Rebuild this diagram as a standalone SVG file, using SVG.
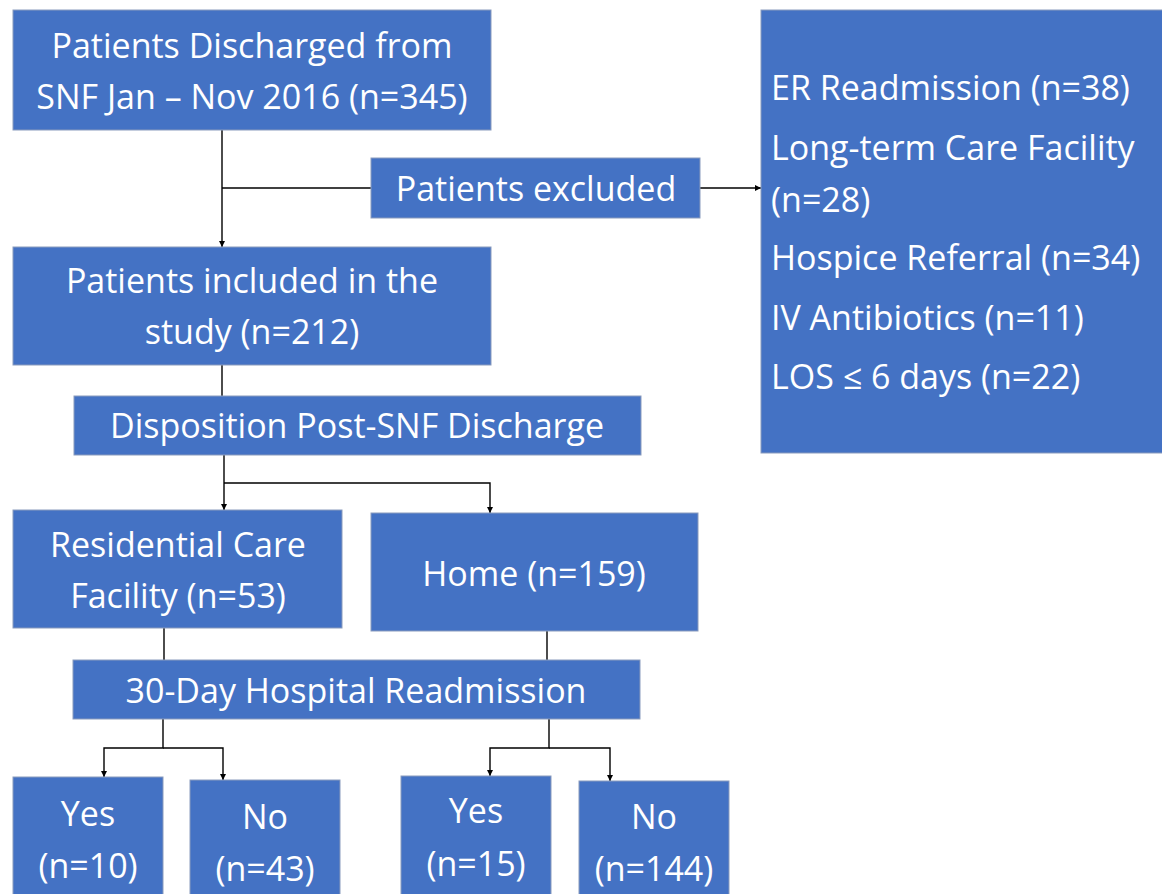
<svg xmlns="http://www.w3.org/2000/svg" width="1162" height="894" viewBox="0 0 1162 894">
<defs>
<style>
.box{fill:#4472C4;stroke:#8a9bbd;stroke-width:1}
.t{font-family:"Open Sans","Liberation Sans",sans-serif;font-size:34px;fill:#ffffff;text-anchor:middle}
.l{font-family:"Open Sans","Liberation Sans",sans-serif;font-size:34px;fill:#ffffff;text-anchor:start}
.c{fill:none;stroke:#000000;stroke-width:1.4}
</style>
<marker id="ah" viewBox="0 0 10 10" refX="10" refY="5" markerWidth="6" markerHeight="6" markerUnits="userSpaceOnUse" orient="auto">
<path d="M0,0 L10,5 L0,10 z" fill="#000000"/>
</marker>
</defs>
<rect width="1162" height="894" fill="#ffffff"/>
<g id="connectors">
<path class="c" d="M222,130 V247" marker-end="url(#ah)"/>
<path class="c" d="M222,188 H371"/>
<path class="c" d="M700,188 H761" marker-end="url(#ah)"/>
<path class="c" d="M222,365 V396"/>
<path class="c" d="M224,455 V510" marker-end="url(#ah)"/>
<path class="c" d="M224,483 H490 V513" marker-end="url(#ah)"/>
<path class="c" d="M164,628 V660"/>
<path class="c" d="M547,631 V660"/>
<path class="c" d="M163,719 V748 H104 V777" marker-end="url(#ah)"/>
<path class="c" d="M163,748 H223 V780" marker-end="url(#ah)"/>
<path class="c" d="M549,719 V748 H490 V776" marker-end="url(#ah)"/>
<path class="c" d="M549,748 H610 V781" marker-end="url(#ah)"/>
</g>
<g id="discharged">
<rect class="box" x="13" y="10" width="478" height="120"/>
<text class="t" x="252" y="58">Patients Discharged from</text>
<text class="t" x="252" y="109">SNF Jan – Nov 2016 (n=345)</text>
</g>
<g id="excluded">
<rect class="box" x="371" y="158" width="329" height="60"/>
<text class="t" x="536" y="201">Patients excluded</text>
</g>
<g id="reasons">
<rect class="box" x="761" y="10" width="402" height="443"/>
<text class="l" x="771" y="100">ER Readmission (n=38)</text>
<text class="l" x="771" y="160">Long-term Care Facility</text>
<text class="l" x="771" y="212">(n=28)</text>
<text class="l" x="771" y="270">Hospice Referral (n=34)</text>
<text class="l" x="771" y="330">IV Antibiotics (n=11)</text>
<text class="l" x="771" y="389">LOS ≤ 6 days (n=22)</text>
</g>
<g id="included">
<rect class="box" x="13" y="247" width="478" height="118"/>
<text class="t" x="252" y="293">Patients included in the</text>
<text class="t" x="252" y="344">study (n=212)</text>
</g>
<g id="disposition">
<rect class="box" x="74" y="396" width="567" height="59"/>
<text class="t" x="357" y="438">Disposition Post-SNF Discharge</text>
</g>
<g id="residential">
<rect class="box" x="13" y="510" width="329" height="118"/>
<text class="t" x="178" y="557">Residential Care</text>
<text class="t" x="178" y="608">Facility (n=53)</text>
</g>
<g id="home">
<rect class="box" x="371" y="513" width="327" height="118"/>
<text class="t" x="534" y="586">Home (n=159)</text>
</g>
<g id="readmission">
<rect class="box" x="73" y="660" width="567" height="59"/>
<text class="t" x="356" y="703">30-Day Hospital Readmission</text>
</g>
<g id="rc-yes">
<rect class="box" x="13" y="777" width="150" height="130"/>
<text class="t" x="88" y="826">Yes</text>
<text class="t" x="88" y="878">(n=10)</text>
</g>
<g id="rc-no">
<rect class="box" x="190" y="780" width="150" height="130"/>
<text class="t" x="265" y="829">No</text>
<text class="t" x="265" y="881">(n=43)</text>
</g>
<g id="home-yes">
<rect class="box" x="401" y="776" width="150" height="130"/>
<text class="t" x="476" y="823">Yes</text>
<text class="t" x="476" y="876">(n=15)</text>
</g>
<g id="home-no">
<rect class="box" x="579" y="781" width="150" height="130"/>
<text class="t" x="654" y="829">No</text>
<text class="t" x="654" y="881">(n=144)</text>
</g>
</svg>
